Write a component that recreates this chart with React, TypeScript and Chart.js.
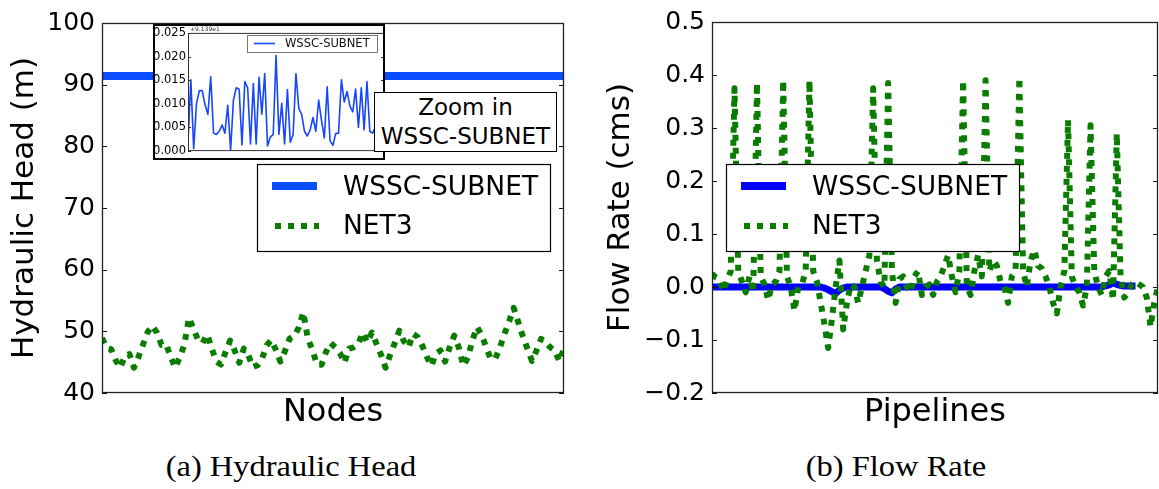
import React, { useEffect, useRef } from 'react';
import { Chart, registerables } from 'chart.js';
Chart.register(...registerables);

// ---------------- DATA ----------------
// (a) Hydraulic head (m)
const headNet3 = [
  48.9, 47.3, 47.1, 45.3, 44.1, 46.0, 46.3, 44.1, 45.9, 47.9, 49.9, 50.9, 49.8, 47.8, 47.9, 45.9, 44.1,
  45.8, 47.8, 52.2, 50.4, 48.6, 48.1, 49.5, 47.2, 45.1, 44.6, 46.6, 48.5, 46.9, 44.9, 47.2, 46.1, 44.2,
  44.5, 45.6, 47.7, 48.6, 47.0, 45.1, 46.8, 48.8, 49.2, 50.6, 53.1, 48.8, 47.0, 44.6, 44.6, 46.7, 48.1,
  47.4, 46.5, 44.9, 47.2, 47.4, 47.9, 49.8, 48.2, 49.8, 48.0, 46.2, 44.1, 46.2, 48.1, 50.1, 48.4, 47.4,
  49.6, 49.1, 47.7, 45.9, 44.4, 46.4, 46.9, 45.1, 47.4, 49.3, 47.4, 44.4, 45.8, 48.6, 50.7, 49.4, 47.4,
  45.5, 45.6, 47.4, 49.6, 51.6, 53.8, 51.5, 49.2, 47.2, 45.2, 46.9, 48.8, 48.2, 47.4, 46.9, 45.1, 47.2,
];
const headWsscBase = 91.39; // offset shown as +9.139e1 in the zoom inset
const headWsscZoom = [
  0.0019, 0.0151, 0.0005, 0.0101, 0.0128, 0.0128, 0.0098, 0.0078, 0.0157, 0.0038, 0.0035, 0.0042,
  0.0055, 0.0038, 0.0097, 0.0002, 0.0108, 0.0134, 0.0131, 0.0013, 0.0147, 0.0134, 0.0015, 0.0143,
  0.0015, 0.0156, 0.0078, 0.0164, 0.0011, 0.0030, 0.0035, 0.0202, 0.0035, 0.0101, 0.0015, 0.0130,
  0.0019, 0.0035, 0.0164, 0.0091, 0.0078, 0.0042, 0.0032, 0.0045, 0.0071, 0.0042, 0.0108, 0.0065,
  0.0028, 0.0136, 0.0022, 0.0012, 0.0037, 0.0038, 0.0151, 0.0104, 0.0126, 0.0095, 0.0083, 0.0131,
  0.0050, 0.0134, 0.0045, 0.0147, 0.0042, 0.0038, 0.0052, 0.0050, 0.0060, 0.0055,
];
const headTicks = { min: 40, max: 100, step: 10 };
const zoomTicks = { min: 0, max: 0.025, step: 0.005 };

// (b) Flow rate (cms)
const flowNet3 = [
  0.025, 0.018, 0.015, -0.008, 0.012, 0.03, 0.375, 0.03, 0.01, -0.01, 0.02, -0.01, 0.385, 0.02, 0.005,
  -0.025, 0.005, 0.01, 0.03, 0.39, 0.02, 0.0, -0.045, 0.0, 0.005, 0.03, 0.39, 0.03, 0.01, -0.03,
  -0.07, -0.115, -0.06, 0.0, 0.05, -0.08, -0.03, 0.005, 0.0, -0.03, 0.0, 0.03, 0.06, 0.375, 0.05,
  0.01, 0.0, 0.385, 0.03, -0.03, 0.015, 0.02, 0.0, -0.01, 0.02, 0.03, -0.015, 0.0, 0.005, -0.015,
  0.01, 0.02, 0.04, 0.06, 0.02, -0.01, 0.03, 0.39, 0.0, -0.015, 0.03, 0.06, 0.02, 0.39, 0.03,
  0.05, 0.04, 0.01, 0.0, -0.03, 0.02, 0.03, 0.395, 0.03, 0.0, 0.05, 0.07, 0.04, 0.035, 0.02,
  0.0, -0.03, -0.05, 0.0, 0.03, 0.315, 0.02, 0.0, -0.01, -0.035, 0.0, 0.305, 0.03, 0.0, -0.015,
  0.02, 0.03, -0.025, 0.29, 0.02, -0.02, -0.01, 0.005, 0.01, 0.005, 0.0, -0.02, -0.075, -0.03, 0.0,
];
const flowWssc = [
  0, 0, 0, 0, 0, 0, 0, 0, 0, 0, 0, 0, 0, 0, 0, 0, 0, 0, 0, 0, 0, 0, 0, 0, 0, 0, 0, 0, 0, 0,
  -0.002, -0.005, -0.009, -0.012, -0.006, -0.002, 0, 0, 0, 0, 0, 0, 0, 0, 0, 0, -0.003, -0.008,
  -0.011, -0.004, 0, 0, 0, 0, 0, 0, 0, 0, 0, 0, 0, 0, 0, 0, 0, 0, 0, 0, 0, 0, 0, 0, 0, 0, 0, 0,
  0, 0, 0, 0, 0, 0, 0, 0, 0, 0, 0, 0, 0, 0, 0, 0, 0, 0, 0, 0, 0, 0, 0, 0, 0, 0, 0, 0, 0, 0.002,
  0.004, 0.008, 0.005, 0.003, 0.002, 0.002, 0.002, 0.002,
];
const flowTicks = { min: -0.2, max: 0.5, step: 0.1 };

const seriesNames = ['WSSC-SUBNET', 'NET3'];

// ---------------- STYLE ----------------
const FONT = '"DejaVu Sans"';
const BLUE_A = '#0a4cff';
const BLUE_B = '#0000ff';
const BLUE_ZOOM = '#1646ff';
const GREEN = '#0a7d00';
const DOT = [6, 7];

function drawMainLegend(ctx: CanvasRenderingContext2D, x: number, y: number, blue: string) {
  const w = 293, h = 87;
  ctx.save();
  ctx.fillStyle = '#fff';
  ctx.fillRect(x, y, w, h);
  ctx.strokeStyle = '#000';
  ctx.lineWidth = 1.2;
  ctx.setLineDash([]);
  ctx.strokeRect(x + 0.5, y + 0.5, w, h);
  ctx.lineCap = 'butt';
  ctx.strokeStyle = blue;
  ctx.lineWidth = 8;
  ctx.beginPath();
  ctx.moveTo(x + 15, y + 22);
  ctx.lineTo(x + 60, y + 22);
  ctx.stroke();
  ctx.strokeStyle = GREEN;
  ctx.lineWidth = 6;
  ctx.setLineDash(DOT);
  ctx.beginPath();
  ctx.moveTo(x + 18, y + 62);
  ctx.lineTo(x + 62, y + 62);
  ctx.stroke();
  ctx.setLineDash([]);
  ctx.fillStyle = '#000';
  ctx.font = `26.5px ${FONT}`;
  ctx.textBaseline = 'middle';
  ctx.textAlign = 'left';
  ctx.fillText(seriesNames[0], x + 86, y + 24);
  ctx.fillText(seriesNames[1], x + 86, y + 63);
  ctx.restore();
}

function framePlugin(legendPos: { x: number; y: number } | null, blue: string, tickLen: number) {
  return {
    id: 'frameAndLegend',
    afterDatasetsDraw(chart: any) {
      const { ctx, chartArea: a } = chart;
      const ys = chart.scales.y;
      ctx.save();
      ctx.strokeStyle = '#111';
      ctx.lineWidth = 1;
      ctx.setLineDash([]);
      ctx.beginPath();
      ys.ticks.forEach((t: any) => {
        const p = Math.round(ys.getPixelForValue(t.value)) + 0.5;
        ctx.moveTo(a.left, p);
        ctx.lineTo(a.left + tickLen, p);
        ctx.moveTo(a.right, p);
        ctx.lineTo(a.right - tickLen, p);
      });
      ctx.stroke();
      ctx.lineWidth = 1.3;
      ctx.strokeStyle = '#222';
      ctx.strokeRect(a.left + 0.5, a.top + 0.5, a.right - a.left - 1, a.bottom - a.top - 1);
      ctx.restore();
      if (legendPos) drawMainLegend(ctx, legendPos.x, legendPos.y, blue);
    },
  };
}

function axisY(min: number, max: number, step: number, title: string, width: number, titlePad: number, fmt: (v: number) => string) {
  return {
    min, max,
    ticks: { stepSize: step, font: { family: FONT, size: 25 }, color: '#000', padding: 7, callback: (v: any) => fmt(Number(v)) },
    grid: { display: false, drawTicks: false },
    border: { display: false },
    title: { display: true, text: title, color: '#000', font: { family: FONT, size: 31 }, padding: { top: titlePad, bottom: 0 } },
    afterFit: (s: any) => { s.width = width; },
  };
}

function axisX(title: string, labels: string[]) {
  return {
    type: 'category', labels, offset: false,
    ticks: { display: false },
    grid: { display: false, drawTicks: false },
    border: { display: false },
    title: { display: true, text: title, color: '#000', font: { family: FONT, size: 32 }, padding: { top: 0, bottom: 8 } },
    afterFit: (s: any) => { s.height = 47; },
  };
}

const idx = (n: number) => Array.from({ length: n }, (_, i) => String(i + 1));

const net3Style = { borderColor: GREEN, borderWidth: 6, borderDash: DOT, borderCapStyle: 'butt', borderJoinStyle: 'round', pointRadius: 0, clip: 0 };

function HeadChart() {
  const ref = useRef<HTMLCanvasElement>(null);
  useEffect(() => {
    const wsscFull = headWsscZoom.map((v) => headWsscBase + v);
    const chart = new Chart(ref.current!, {
      type: 'line',
      data: {
        labels: idx(headNet3.length),
        datasets: [
          { label: seriesNames[0], data: wsscFull, xAxisID: 'x2', borderColor: BLUE_A, borderWidth: 8, borderJoinStyle: 'round', pointRadius: 0, clip: 0, order: 1 } as any,
          { label: seriesNames[1], data: headNet3, ...net3Style, order: 0 } as any,
        ],
      },
      options: {
        animation: false, responsive: false, maintainAspectRatio: false,
        layout: { padding: { top: 23, right: 16, left: 0, bottom: 0 } },
        plugins: { legend: { display: false }, tooltip: { enabled: false } },
        elements: { point: { radius: 0 }, line: { tension: 0 } },
        scales: {
          x: axisX('Nodes', idx(headNet3.length)) as any,
          x2: { type: 'category', labels: idx(wsscFull.length), display: false, offset: false } as any,
          y: axisY(headTicks.min, headTicks.max, headTicks.step, 'Hydraulic Head (m)', 102, 6, (v) => String(Math.round(v))) as any,
        },
      },
      plugins: [framePlugin({ x: 257, y: 164 }, BLUE_A, 5) as any],
    });
    return () => chart.destroy();
  }, []);
  return <canvas ref={ref} width={580} height={440} />;
}

function ZoomChart() {
  const ref = useRef<HTMLCanvasElement>(null);
  useEffect(() => {
    const chart = new Chart(ref.current!, {
      type: 'line',
      data: {
        labels: idx(headWsscZoom.length),
        datasets: [{ label: seriesNames[0], data: headWsscZoom, borderColor: BLUE_ZOOM, borderWidth: 1.6, borderJoinStyle: 'round', pointRadius: 0, clip: 0 } as any],
      },
      options: {
        animation: false, responsive: false, maintainAspectRatio: false,
        layout: { padding: { top: 3, right: 1, left: 0, bottom: 0 } },
        plugins: { legend: { display: false }, tooltip: { enabled: false } },
        elements: { point: { radius: 0 }, line: { tension: 0 } },
        scales: {
          x: { type: 'category', offset: false, ticks: { display: false }, grid: { display: false, drawTicks: false }, border: { display: false }, afterFit: (s: any) => { s.height = 3; } } as any,
          y: {
            min: zoomTicks.min, max: zoomTicks.max,
            ticks: { stepSize: zoomTicks.step, font: { family: FONT, size: 11.5 }, color: '#000', padding: 2, callback: (v: any) => Number(v).toFixed(3) },
            grid: { display: false, drawTicks: false }, border: { display: false },
            afterFit: (s: any) => { s.width = 35; },
          } as any,
        },
      },
      plugins: [
        {
          id: 'zoomDecor',
          beforeDraw(c: any) {
            const { ctx, width, height } = c;
            ctx.save();
            ctx.fillStyle = '#fff';
            ctx.fillRect(0, 0, width, height);
            ctx.restore();
          },
          afterDatasetsDraw(c: any) {
            const { ctx, chartArea: a, width, height } = c;
            const ys = c.scales.y;
            ctx.save();
            ctx.strokeStyle = '#333';
            ctx.lineWidth = 1;
            ctx.beginPath();
            ys.ticks.forEach((t: any) => {
              const p = Math.round(ys.getPixelForValue(t.value)) + 0.5;
              ctx.moveTo(a.left, p); ctx.lineTo(a.left + 3, p);
              ctx.moveTo(a.right, p); ctx.lineTo(a.right - 3, p);
            });
            ctx.stroke();
            ctx.strokeRect(a.left + 0.5, a.top + 0.5, a.right - a.left - 1, a.bottom - a.top - 1);
            ctx.fillStyle = '#333';
            ctx.font = `6px ${FONT}`;
            ctx.textBaseline = 'bottom';
            ctx.fillText('+9.139e1', a.left + 2, a.top);
            // legend
            const lx = 94, ly = 11, lw = 130, lh = 17;
            ctx.fillStyle = '#fff';
            ctx.fillRect(lx, ly, lw, lh);
            ctx.strokeStyle = '#777';
            ctx.strokeRect(lx + 0.5, ly + 0.5, lw, lh);
            ctx.strokeStyle = BLUE_ZOOM;
            ctx.lineWidth = 1.6;
            ctx.beginPath();
            ctx.moveTo(lx + 7, ly + 8.5);
            ctx.lineTo(lx + 28, ly + 8.5);
            ctx.stroke();
            ctx.fillStyle = '#111';
            ctx.font = `11.5px ${FONT}`;
            ctx.textBaseline = 'middle';
            ctx.fillText(seriesNames[0], lx + 38, ly + 9.5);
            // outer border
            ctx.strokeStyle = '#000';
            ctx.lineWidth = 2;
            ctx.strokeRect(1, 1, width - 2, height - 2);
            ctx.restore();
          },
        } as any,
      ],
    });
    return () => chart.destroy();
  }, []);
  return <canvas ref={ref} width={232} height={136} />;
}

function FlowChart() {
  const ref = useRef<HTMLCanvasElement>(null);
  useEffect(() => {
    const chart = new Chart(ref.current!, {
      type: 'line',
      data: {
        labels: idx(flowNet3.length),
        datasets: [
          { label: seriesNames[0], data: flowWssc, borderColor: BLUE_B, borderWidth: 7, borderJoinStyle: 'round', pointRadius: 0, clip: 0, order: 1 } as any,
          { label: seriesNames[1], data: flowNet3, ...net3Style, order: 0 } as any,
        ],
      },
      options: {
        animation: false, responsive: false, maintainAspectRatio: false,
        layout: { padding: { top: 22, right: 1, left: 0, bottom: 0 } },
        plugins: { legend: { display: false }, tooltip: { enabled: false } },
        elements: { point: { radius: 0 }, line: { tension: 0 } },
        scales: {
          x: axisX('Pipelines', idx(flowNet3.length)) as any,
          y: axisY(flowTicks.min, flowTicks.max, flowTicks.step, 'Flow Rate (cms)', 132, 22, (v) => {
            const s = (Math.abs(v) < 1e-9 ? 0 : v).toFixed(1);
            return s.replace('-', '\u2212');
          }) as any,
        },
      },
      plugins: [framePlugin({ x: 146, y: 164 }, BLUE_B, 5) as any],
    });
    return () => chart.destroy();
  }, []);
  return <canvas ref={ref} width={579} height={440} />;
}

const captionStyle: React.CSSProperties = {
  position: 'absolute', top: 449, width: 400, textAlign: 'center',
  fontFamily: '"Liberation Serif", serif', fontSize: 29, lineHeight: '34px', color: '#000',
  transform: 'scaleX(1.12)',
};

export default function App() {
  return (
    <div style={{ position: 'absolute', left: 0, top: 0, width: 1159, height: 489, background: '#fff', overflow: 'hidden' }}>
      <div style={{ position: 'absolute', left: 0, top: 0 }}><HeadChart /></div>
      <div style={{ position: 'absolute', left: 580, top: 0 }}><FlowChart /></div>
      <div style={{ position: 'absolute', left: 153, top: 24, width: 232, height: 136 }}><ZoomChart /></div>
      <div style={{
        position: 'absolute', left: 374, top: 92, width: 183, height: 60, boxSizing: 'border-box',
        border: '1.5px solid #000', background: '#fff', display: 'flex', flexDirection: 'column',
        alignItems: 'center', justifyContent: 'center', fontFamily: FONT, fontSize: 23, lineHeight: '29px', color: '#000',
      }}>
        <div>Zoom in</div>
        <div>WSSC-SUBNET</div>
      </div>
      <div style={{ ...captionStyle, left: 291 - 200 }}>(a) Hydraulic Head</div>
      <div style={{ ...captionStyle, left: 896 - 200 }}>(b) Flow Rate</div>
    </div>
  );
}
